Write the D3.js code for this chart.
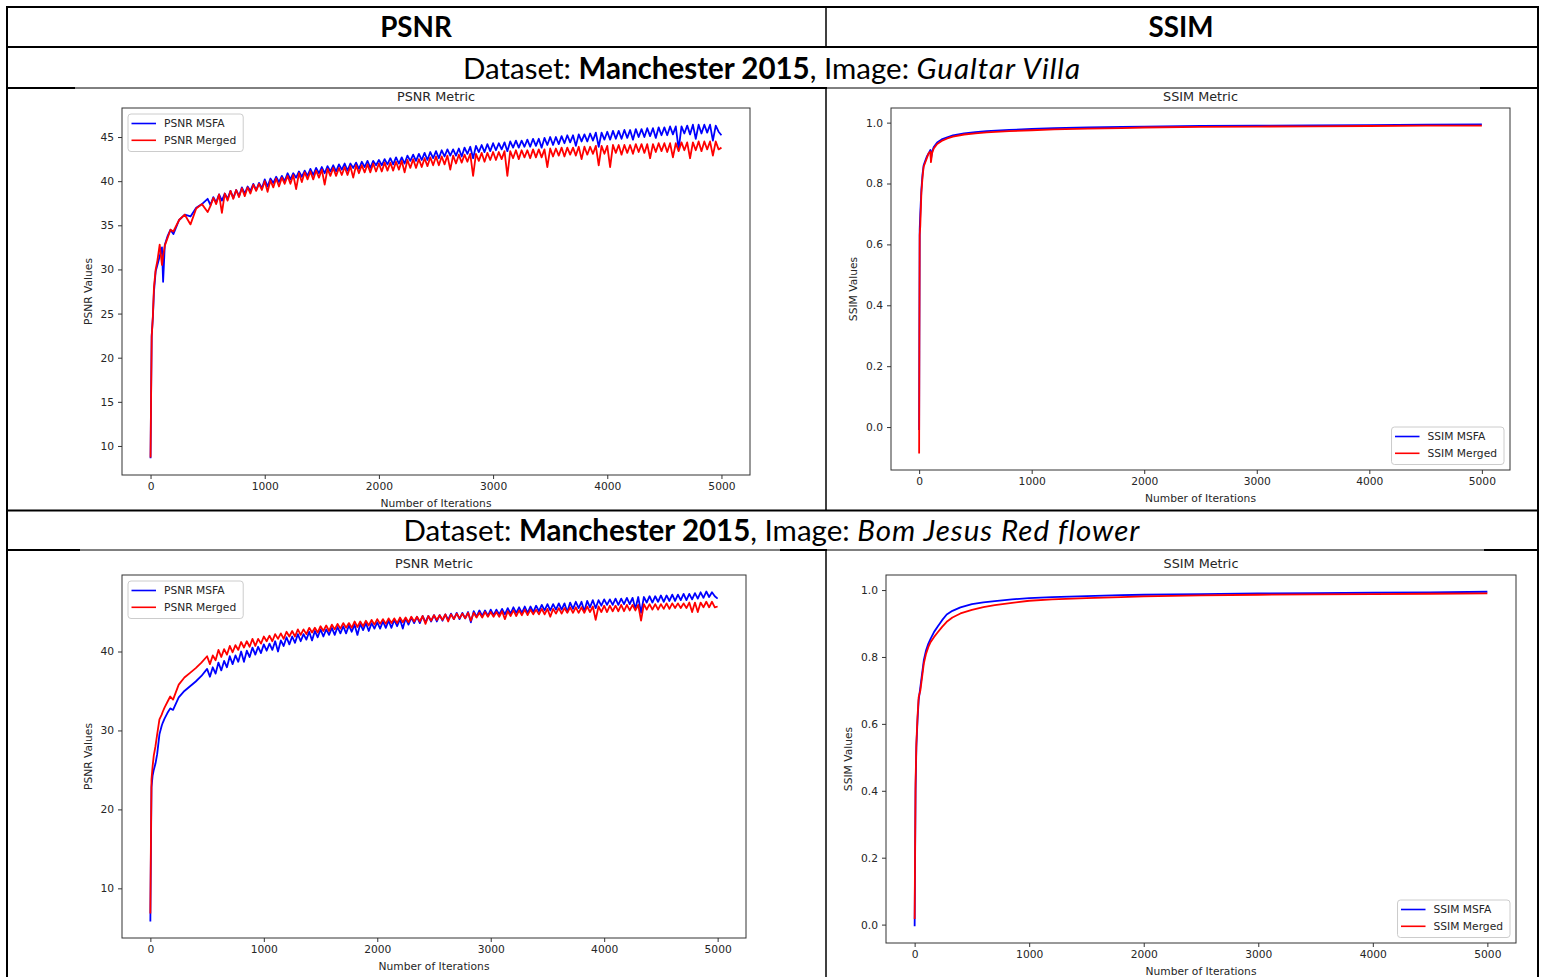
<!DOCTYPE html>
<html>
<head>
<meta charset="utf-8">
<script src="https://cdn.jsdelivr.net/npm/d3@7/dist/d3.min.js"></script>
<style>
  body { margin: 0; background: #fff; }
  svg text { font-family: "DejaVu Sans", sans-serif; fill: #262626; }
  svg text.cell { font-family: Lato, "Noto Sans", sans-serif; fill: #000; }
</style>
</head>
<body>
<svg id="page" width="1544" height="977"></svg>
<script>
// iterations sampled for the PSNR curves
const psnrIters = [0,5,10,20,30,45,60,80,100,110,125,150,175,200,250,300,350,400,450,
  500,525,550,575,600,625,650,675,700,725,750,775,800,825,850,875,900,925,950,975,
  1000,1025,1050,1075,1100,1125,1150,1175,1200,1225,1250,1275,1300,1325,1350,1375,1400,1425,1450,1475,
  1500,1525,1550,1575,1600,1625,1650,1675,1700,1725,1750,1775,1800,1825,1850,1875,1900,1925,1950,1975,
  2000,2025,2050,2075,2100,2125,2150,2175,2200,2225,2250,2275,2300,2325,2350,2375,2400,2425,2450,2475,
  2500,2525,2550,2575,2600,2625,2650,2675,2700,2725,2750,2775,2800,2825,2850,2875,2900,2925,2950,2975,
  3000,3025,3050,3075,3100,3125,3150,3175,3200,3225,3250,3275,3300,3325,3350,3375,3400,3425,3450,3475,
  3500,3525,3550,3575,3600,3625,3650,3675,3700,3725,3750,3775,3800,3825,3850,3875,3900,3925,3950,3975,
  4000,4025,4050,4075,4100,4125,4150,4175,4200,4225,4250,4275,4300,4325,4350,4375,4400,4425,4450,4475,
  4500,4525,4550,4575,4600,4625,4650,4675,4700,4725,4750,4775,4800,4825,4850,4875,4900,4925,4950,4975,
  5000];

// Gualtar Villa, PSNR
const gualtarPsnrMsfa = [8.6,16,22.5,24.5,27.5,29.8,30.5,31.5,32.5,28.6,32.8,33.8,34.5,34.0,35.6,36.2,36.0,37.0,37.4,
  38.0,37.3,38.2,37.6, 38.5,37.8,38.6,38.0, 38.9,38.1,39.0,38.3, 39.3,38.6,39.4,38.9, 39.7,39.0,39.8,39.2,
  40.2,39.4,40.3,39.8, 40.5,39.9,40.6,40.0, 40.9,40.2,40.9,40.4, 41.1,40.5,41.2,40.6, 41.4,40.7,41.5,40.9,
  41.6,40.9,41.7,41.1, 41.8,41.1,41.9,41.3, 42.0,41.2,42.0,41.5, 42.1,41.4,42.2,41.6, 42.3,41.5,42.3,41.8,
  42.4,41.8,42.5,41.9, 42.6,41.9,42.7,42.0, 42.7,42.0,42.9,42.3, 43.0,42.3,43.1,42.4, 43.2,42.4,43.3,42.6,
  43.4,42.6,43.5,42.8, 43.6,42.9,43.6,42.9, 43.7,42.8,43.8,43.1, 43.9,42.6,44.0,43.3, 44.1,43.3,44.2,43.4,
  44.3,43.5,44.3,43.6, 44.4,43.4,44.5,43.8, 44.6,43.8,44.6,43.9, 44.7,43.9,44.8,44.0, 44.8,43.8,44.9,44.1,
  45.0,44.1,45.0,44.2, 45.1,44.3,45.2,44.4, 45.2,44.0,45.3,44.5, 45.3,44.5,45.4,44.6, 45.5,43.9,45.5,44.7,
  45.6,44.7,45.7,44.8, 45.7,44.8,45.8,44.9, 45.8,44.7,45.9,45.0, 45.9,45.0,46.0,45.1, 46.0,44.9,46.1,45.2,
  46.1,45.2,46.2,45.3, 46.2,43.6,46.2,45.4, 46.3,45.3,46.4,44.8, 46.4,45.4,46.4,45.5, 46.4,44.6,46.3,45.6,
  45.2];
const gualtarPsnrMerged = [8.7,16,22.3,24.6,28.0,30.0,31.0,32.8,30.5,31.5,32.7,33.6,34.5,34.3,35.6,36.2,35.1,36.9,37.4,
  36.5,37.2,38.1,37.4, 38.5,36.4,38.6,37.8, 38.9,38.0,39.0,38.2, 39.2,38.3,39.3,38.6, 39.6,38.9,39.7,39.0,
  40.0,38.8,40.1,39.3, 40.3,39.4,40.4,39.7, 40.6,39.7,40.7,39.1, 40.9,39.9,41.0,40.2, 41.1,40.2,41.2,40.4,
  41.3,39.6,41.4,40.6, 41.5,40.6,41.5,40.7, 41.6,40.7,41.7,40.4, 41.8,40.9,41.8,41.0, 41.9,41.0,42.0,41.1,
  42.0,41.1,42.1,41.2, 42.1,41.2,42.2,41.3, 42.3,41.0,42.4,41.5, 42.5,41.5,42.5,41.6, 42.6,41.7,42.7,41.8,
  42.8,41.8,42.8,41.9, 42.9,41.3,42.9,42.0, 43.0,42.1,43.0,42.2, 43.1,40.6,43.1,42.3, 43.2,42.2,43.2,42.4,
  43.3,42.4,43.3,42.5, 43.4,40.6,43.4,42.6, 43.5,42.5,43.5,42.7, 43.5,42.6,43.6,42.7, 43.6,42.7,43.6,41.6,
  43.7,42.8,43.7,42.9, 43.8,42.8,43.8,43.0, 43.8,42.9,43.9,42.5, 43.9,43.0,43.9,43.1, 44.0,41.8,44.0,43.1,
  44.0,41.6,44.1,43.2, 44.1,43.0,44.1,43.2, 44.1,43.1,44.2,43.3, 44.2,43.2,44.2,42.6, 44.2,43.3,44.3,43.4,
  44.3,43.3,44.3,42.7, 44.3,43.4,44.4,43.5, 44.4,42.6,44.4,43.5, 44.5,43.4,44.5,43.6, 44.5,42.9,44.5,43.6,
  43.8];

// Bom Jesus Red flower, PSNR
const bomPsnrMsfa = [5.8,15,22.8,24.3,25.0,25.8,27.0,29.5,30.6,31.0,31.5,32.2,32.8,32.6,34.2,35.0,35.6,36.2,36.9,
  37.8,36.8,38.0,37.2, 38.6,37.6,38.8,38.0, 39.4,38.4,39.5,38.7, 40.0,38.7,40.1,39.3, 40.5,39.6,40.6,39.8,
  40.9,40.1,41.0,40.2, 41.3,40.0,41.4,40.7, 41.8,40.9,41.9,41.1, 42.2,41.3,42.2,41.5, 42.5,41.4,42.6,41.8,
  42.8,41.9,42.8,42.1, 43.0,42.1,43.1,42.3, 43.2,42.3,43.3,42.5, 43.4,42.1,43.5,42.7, 43.6,42.6,43.6,42.9,
  43.7,42.9,43.8,43.0, 43.9,43.0,44.0,43.2, 44.1,42.9,44.2,43.4, 44.3,43.6,44.4,43.6, 44.5,43.7,44.5,43.8,
  44.6,43.8,44.6,43.9, 44.7,44.0,44.8,44.1, 44.9,44.1,44.9,44.2, 45.0,43.7,45.1,44.4, 45.2,44.5,45.2,44.5,
  45.3,44.6,45.3,44.7, 45.4,44.7,45.5,44.8, 45.6,44.9,45.6,44.9, 45.7,44.9,45.7,45.0, 45.8,45.1,45.9,45.2,
  46.0,45.2,46.0,45.3, 46.1,45.3,46.1,45.0, 46.2,45.4,46.3,45.5, 46.3,45.1,46.4,45.6, 46.5,45.5,46.5,45.8,
  46.6,45.9,46.6,45.9, 46.7,45.9,46.7,46.0, 46.8,46.0,46.8,45.4, 46.9,44.9,46.9,46.2, 47.0,46.2,47.0,46.3,
  47.1,46.3,47.1,46.4, 47.2,46.4,47.2,46.5, 47.3,46.5,47.3,46.6, 47.4,46.7,47.5,46.8, 47.6,46.9,47.5,47.0,
  46.7];
const bomPsnrMerged = [6.8,16,23.8,25.5,26.8,28.0,29.5,31.4,32.0,32.4,32.9,33.6,34.3,33.9,35.8,36.7,37.3,37.9,38.6,
  39.4,38.4,39.5,38.9, 40.2,39.3,40.3,39.6, 40.7,39.9,40.8,40.2, 41.2,40.5,41.3,40.6, 41.6,40.7,41.6,41.0,
  41.9,41.3,42.0,41.3, 42.2,41.6,42.3,41.6, 42.5,41.9,42.6,41.9, 42.8,42.1,42.8,42.2, 43.0,42.4,43.0,42.4,
  43.2,42.6,43.3,42.6, 43.4,42.8,43.5,42.9, 43.6,43.0,43.6,43.0, 43.8,43.1,43.8,43.2, 43.9,43.3,44.0,43.4,
  44.1,43.5,44.1,43.5, 44.2,43.6,44.2,43.6, 44.3,43.7,44.3,43.7, 44.4,43.8,44.4,43.8, 44.5,43.5,44.5,43.9,
  44.6,44.0,44.6,44.0, 44.7,43.8,44.7,44.1, 44.8,44.2,44.8,44.2, 44.9,43.9,44.9,44.3, 44.9,44.3,45.0,44.4,
  45.0,44.4,45.0,44.4, 45.1,44.1,45.1,44.5, 45.2,44.5,45.2,44.6, 45.3,44.6,45.3,44.7, 45.3,44.7,45.4,44.7,
  45.4,44.4,45.4,44.8, 45.5,44.8,45.5,44.9, 45.6,44.9,45.6,44.9, 45.6,44.9,45.7,45.0, 45.7,44.0,45.7,45.0,
  45.8,45.0,45.8,45.1, 45.8,45.1,45.9,45.1, 45.9,45.2,45.9,45.2, 45.9,43.9,46.0,45.3, 46.0,45.3,46.0,45.3,
  46.0,45.4,46.1,45.4, 46.1,45.5,46.1,45.5, 46.1,45.5,46.2,45.0, 46.2,45.0,46.2,45.6, 46.3,45.6,46.3,45.6,
  45.7];

// Gualtar Villa, SSIM
const gualtarSsimIters = [0,2,5,10,20,30,40,55,70,85,100,105,115,130,160,200,250,300,400,500,600,800,1000,1200,1500,1800,2000,2500,3000,3500,4000,4500,5000];
const gualtarSsimMsfa = [-0.01,0.30,0.65,0.70,0.78,0.83,0.86,0.875,0.89,0.90,0.91,0.88,0.905,0.92,0.935,0.945,0.952,0.958,0.965,0.969,0.972,0.976,0.979,0.982,0.984,0.986,0.987,0.989,0.990,0.991,0.992,0.993,0.994];
const gualtarSsimMerged = [-0.087,0.25,0.63,0.66,0.77,0.82,0.855,0.87,0.885,0.90,0.905,0.87,0.90,0.915,0.93,0.94,0.948,0.954,0.961,0.965,0.968,0.972,0.975,0.978,0.980,0.982,0.984,0.986,0.987,0.988,0.989,0.990,0.990];

// Bom Jesus Red flower, SSIM
const bomSsimIters = [0,3,8,15,25,35,50,65,80,100,120,140,170,200,240,280,330,400,500,600,700,850,1000,1200,1500,1800,2000,2500,3000,3500,4000,4500,5000];
const bomSsimMsfa = [-0.005,0.15,0.40,0.53,0.61,0.67,0.71,0.75,0.79,0.82,0.84,0.855,0.875,0.89,0.91,0.927,0.938,0.948,0.958,0.963,0.967,0.972,0.976,0.979,0.982,0.985,0.986,0.988,0.990,0.991,0.992,0.993,0.995];
const bomSsimMerged = [0.017,0.18,0.42,0.54,0.62,0.68,0.70,0.74,0.78,0.81,0.83,0.845,0.86,0.873,0.89,0.905,0.918,0.93,0.941,0.949,0.955,0.962,0.968,0.972,0.976,0.979,0.981,0.984,0.986,0.987,0.988,0.989,0.990];

const xTicks = [0,1000,2000,3000,4000,5000];
const gualtarPsnrTicks = [10,15,20,25,30,35,40,45];
const bomPsnrTicks = [10,20,30,40];
const ssimTicks = [0,0.2,0.4,0.6,0.8,1.0];

const svg = d3.select("#page");

// ---- table grid ----
const grid = svg.append("g").attr("stroke", "#000").attr("fill", "none");
function hline(y, xa, xb, w) {
  grid.append("line").attr("x1", xa).attr("x2", xb).attr("y1", y).attr("y2", y).attr("stroke-width", w);
}
function vline(x, ya, yb, w) {
  grid.append("line").attr("x1", x).attr("x2", x).attr("y1", ya).attr("y2", yb).attr("stroke-width", w);
}
hline(7, 6, 1539, 2);
hline(47, 6, 1539, 2);
hline(88, 6, 1539, 1);
hline(88, 6, 75, 2.2);
hline(88, 770, 827, 2.2);
hline(88, 1480, 1539, 2.2);
hline(510.5, 6, 1539, 2);
hline(550, 6, 1539, 1);
hline(550, 6, 80, 2.2);
hline(550, 780, 827, 2.2);
hline(550, 1484, 1539, 2.2);
vline(7, 6, 977, 2);
vline(1538, 6, 977, 2);
vline(826, 6, 47, 1.5);
vline(826, 88, 510, 1.5);
vline(826, 550, 977, 1.5);

function cellText(x, y, size, parts) {
  const t = svg.append("text").attr("class", "cell").attr("x", x).attr("y", y)
    .attr("text-anchor", "middle").style("font-size", size + "px");
  parts.forEach(p => {
    t.append("tspan").text(p[0])
      .style("font-weight", p[1] === "b" ? "bold" : "normal")
      .style("font-style", p[1] === "i" ? "italic" : "normal")
      .style("letter-spacing", p[1] === "i" ? "1px" : null);
  });
}
cellText(416, 37, 27.8, [["PSNR", "b"]]);
cellText(1181, 37, 27.8, [["SSIM", "b"]]);
cellText(772, 79, 29.5, [["Dataset: ", ""], ["Manchester 2015", "b"], [", Image: ", ""], ["Gualtar Villa", "i"]]);
cellText(772, 541, 29.5, [["Dataset: ", ""], ["Manchester 2015", "b"], [", Image: ", ""], ["Bom Jesus Red flower", "i"]]);

// ---- chart panels ----
const panels = [
  { title: "PSNR Metric", ylabel: "PSNR Values", box: [122, 108, 750, 475], labelOff: 30, lw: 1.8,
    iters: psnrIters, msfa: gualtarPsnrMsfa, merged: gualtarPsnrMerged,
    yTicks: gualtarPsnrTicks, fmt: d3.format("d"), legend: "ul", names: ["PSNR MSFA", "PSNR Merged"] },
  { title: "SSIM Metric", ylabel: "SSIM Values", box: [891, 108, 1510, 470], labelOff: 34, lw: 1.8,
    iters: gualtarSsimIters, msfa: gualtarSsimMsfa, merged: gualtarSsimMerged,
    yTicks: ssimTicks, fmt: d3.format(".1f"), legend: "lr", names: ["SSIM MSFA", "SSIM Merged"] },
  { title: "PSNR Metric", ylabel: "PSNR Values", box: [122, 575, 746, 938], labelOff: 30, lw: 1.8,
    iters: psnrIters, msfa: bomPsnrMsfa, merged: bomPsnrMerged,
    yTicks: bomPsnrTicks, fmt: d3.format("d"), legend: "ul", names: ["PSNR MSFA", "PSNR Merged"] },
  { title: "SSIM Metric", ylabel: "SSIM Values", box: [886, 575, 1516, 943], labelOff: 34, lw: 1.8,
    iters: bomSsimIters, msfa: bomSsimMsfa, merged: bomSsimMerged,
    yTicks: ssimTicks, fmt: d3.format(".1f"), legend: "lr", names: ["SSIM MSFA", "SSIM Merged"] }
];

function drawPanel(p) {
  const [x0, y0, x1, y1] = p.box;
  const g = svg.append("g");
  const [xmin, xmax] = d3.extent(p.iters);
  const [ymin, ymax] = d3.extent(p.msfa.concat(p.merged));
  const padX = (xmax - xmin) * 0.05, padY = (ymax - ymin) * 0.05;
  const x = d3.scaleLinear().domain([xmin - padX, xmax + padX]).range([x0, x1]);
  const y = d3.scaleLinear().domain([ymin - padY, ymax + padY]).range([y1, y0]);

  const line = d3.line().x((d, i) => x(p.iters[i])).y(d => y(d));
  g.append("path").datum(p.msfa).attr("d", line)
    .attr("fill", "none").attr("stroke", "#0000ff").attr("stroke-width", p.lw).attr("stroke-linejoin", "round");
  g.append("path").datum(p.merged).attr("d", line)
    .attr("fill", "none").attr("stroke", "#ff0000").attr("stroke-width", p.lw).attr("stroke-linejoin", "round");

  const xAxis = g.append("g").attr("transform", `translate(0,${y1})`)
    .call(d3.axisBottom(x).tickValues(xTicks).tickFormat(d3.format("d")).tickSize(4).tickPadding(3));
  const yAxis = g.append("g").attr("transform", `translate(${x0},0)`)
    .call(d3.axisLeft(y).tickValues(p.yTicks).tickFormat(p.fmt).tickSize(4).tickPadding(4));
  [xAxis, yAxis].forEach(a => {
    a.select(".domain").remove();
    a.selectAll("line").attr("stroke", "#333");
    a.selectAll("text").style("font-size", "10.7px").style("font-family", "DejaVu Sans").attr("fill", "#262626");
  });

  g.append("rect").attr("x", x0).attr("y", y0).attr("width", x1 - x0).attr("height", y1 - y0)
    .attr("fill", "none").attr("stroke", "#333").attr("stroke-width", 1);

  g.append("text").attr("x", (x0 + x1) / 2).attr("y", y0 - 7.5).attr("text-anchor", "middle")
    .style("font-size", "12.8px").text(p.title);
  g.append("text").attr("x", (x0 + x1) / 2).attr("y", y1 + 32).attr("text-anchor", "middle")
    .style("font-size", "10.7px").text("Number of Iterations");
  g.append("text").attr("transform", `translate(${x0 - p.labelOff},${(y0 + y1) / 2}) rotate(-90)`)
    .attr("text-anchor", "middle").style("font-size", "10.7px").text(p.ylabel);

  // legend
  const lg = g.append("g");
  const box = lg.append("rect").attr("rx", 3).attr("fill", "#fff").attr("fill-opacity", 0.8)
    .attr("stroke", "#ccc").attr("stroke-width", 1);
  const colors = ["#0000ff", "#ff0000"];
  let maxW = 0;
  p.names.forEach((n, i) => {
    const cy = 9.5 + i * 16.8;
    lg.append("line").attr("x1", 3.5).attr("x2", 28).attr("y1", cy).attr("y2", cy)
      .attr("stroke", colors[i]).attr("stroke-width", 1.6);
    const t = lg.append("text").attr("x", 36).attr("y", cy).attr("dy", "0.36em")
      .style("font-size", "10.7px").text(n);
    maxW = Math.max(maxW, t.node().getComputedTextLength());
  });
  const bw = 36 + maxW + 7, bh = 37.5;
  box.attr("width", bw).attr("height", bh);
  if (p.legend === "ul") lg.attr("transform", `translate(${x0 + 6},${y0 + 6})`);
  else lg.attr("transform", `translate(${x1 - 6 - bw},${y1 - 5.5 - bh})`);
}

panels.forEach(drawPanel);
</script>
</body>
</html>
